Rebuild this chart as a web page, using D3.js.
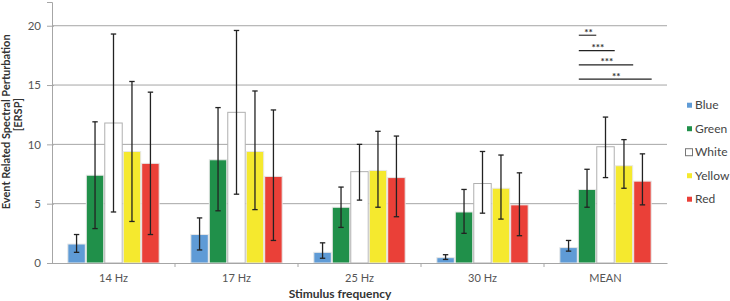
<!DOCTYPE html>
<html>
<head>
<meta charset="utf-8">
<script src="https://cdn.jsdelivr.net/npm/d3@7"></script>
<style>
  body { margin: 0; background: #fff; }
  text { font-family: Lato, "Open Sans", sans-serif; }
</style>
</head>
<body>
<div id="chart"></div>
<script>
// data
var categories = ["14 Hz", "17 Hz", "25 Hz", "30 Hz", "MEAN"];
var colours = ["Blue", "Green", "White", "Yellow", "Red"];
var yTicks = [0, 5, 10, 15, 20];

var meanBlue   = [1.6, 2.4, 0.9, 0.45, 1.3];
var meanGreen  = [7.4, 8.7, 4.7, 4.3, 6.2];
var meanWhite  = [11.8, 12.7, 7.7, 6.7, 9.8];
var meanYellow = [9.4, 9.4, 7.8, 6.3, 8.2];
var meanRed    = [8.4, 7.3, 7.2, 4.9, 6.9];

var errLowBlue   = [0.9, 1.1, 0.4, 0.3, 1.0];
var errHighBlue  = [2.4, 3.8, 1.7, 0.7, 1.9];
var errLowGreen  = [2.9, 4.4, 3.0, 2.5, 4.7];
var errHighGreen = [11.9, 13.1, 6.4, 6.2, 7.9];
var errLowWhite  = [4.3, 5.8, 5.3, 4.2, 7.2];
var errHighWhite = [19.3, 19.6, 10.0, 9.4, 12.3];
var errLowYellow = [3.5, 4.5, 4.7, 3.7, 6.3];
var errHighYellow= [15.3, 14.5, 11.1, 9.1, 10.4];
var errLowRed    = [2.4, 1.9, 3.9, 2.3, 4.9];
var errHighRed   = [14.4, 12.9, 10.7, 7.6, 9.2];

// significance brackets on MEAN: Blue vs ...
var sigTargets = ["Green", "White", "Yellow", "Red"];
var sigLevels  = [19.2, 17.9, 16.7, 15.5];
var sigLabels  = ["**", "***", "***", "**"];

var fill = {Blue: "#5f9bd6", Green: "#20904a", White: "#ffffff", Yellow: "#f5e92e", Red: "#ea4038"};

var means = {Blue: meanBlue, Green: meanGreen, White: meanWhite, Yellow: meanYellow, Red: meanRed};
var lows = {Blue: errLowBlue, Green: errLowGreen, White: errLowWhite, Yellow: errLowYellow, Red: errLowRed};
var highs = {Blue: errHighBlue, Green: errHighGreen, White: errHighWhite, Yellow: errHighYellow, Red: errHighRed};

var margin = {top: 2, right: 63, bottom: 38, left: 52},
    width = 730 - margin.left - margin.right,
    height = 301 - margin.top - margin.bottom;

var svg = d3.select("#chart").append("svg")
    .attr("width", 730).attr("height", 301)
  .append("g")
    .attr("transform", "translate(" + margin.left + "," + margin.top + ")");

var x = d3.scaleBand().domain(categories).range([0, width]);
var xSub = d3.scaleBand().domain(colours).range([0, x.bandwidth()])
    .paddingInner(0).paddingOuter(0.83);
var y = d3.scaleLinear().domain([0, 22]).range([height, 0]);

// gridlines
svg.append("g").selectAll("line").data(yTicks.slice(1)).enter().append("line")
    .attr("x1", 0).attr("x2", width)
    .attr("y1", function(d) { return y(d); }).attr("y2", function(d) { return y(d); })
    .attr("stroke", "#a6a6a6").attr("stroke-width", 1);

// y axis
var yAxis = svg.append("g")
    .call(d3.axisLeft(y).tickValues(yTicks).tickSize(5).tickPadding(6));
yAxis.select(".domain").attr("stroke", "#a6a6a6");
yAxis.selectAll(".tick line").attr("stroke", "#a6a6a6").attr("x2", -5).attr("x1", 2);
yAxis.selectAll(".tick text").attr("fill", "#555").style("font-size", "11.5px");

// bars
var rows = [];
categories.forEach(function(c, i) {
  colours.forEach(function(k) {
    rows.push({cat: c, key: k, value: means[k][i], lo: lows[k][i], hi: highs[k][i]});
  });
});

var groups = svg.selectAll("g.layer").data(categories).enter().append("g")
    .attr("class", "layer")
    .attr("transform", function(d) { return "translate(" + x(d) + ",0)"; });

groups.selectAll("rect")
    .data(function(c) { return rows.filter(function(r) { return r.cat == c; }); })
  .enter().append("rect")
    .attr("x", function(d) { return xSub(d.key) + 0.5; })
    .attr("width", xSub.bandwidth() - 1)
    .attr("y", function(d) { return y(d.value); })
    .attr("height", function(d) { return y(0) - y(d.value); })
    .attr("fill", function(d) { return fill[d.key]; })
    .attr("stroke", function(d) { return d.key == "White" ? "#b0b0b0" : "#e8e8e8"; })
    .attr("stroke-width", 1);

// error bars
var eb = groups.selectAll("g.err")
    .data(function(c) { return rows.filter(function(r) { return r.cat == c; }); })
  .enter().append("g").attr("class", "err")
    .attr("stroke", "#222").attr("stroke-width", 1.3);
var cx = function(d) { return xSub(d.key) + xSub.bandwidth() / 2; };
eb.append("line")
    .attr("x1", cx).attr("x2", cx)
    .attr("y1", function(d) { return y(d.lo); }).attr("y2", function(d) { return y(d.hi); });
eb.append("line")
    .attr("x1", function(d) { return cx(d) - 2.7; }).attr("x2", function(d) { return cx(d) + 2.7; })
    .attr("y1", function(d) { return y(d.hi); }).attr("y2", function(d) { return y(d.hi); });
eb.append("line")
    .attr("x1", function(d) { return cx(d) - 2.7; }).attr("x2", function(d) { return cx(d) + 2.7; })
    .attr("y1", function(d) { return y(d.lo); }).attr("y2", function(d) { return y(d.lo); });

// x axis
var xAxis = svg.append("g")
    .attr("transform", "translate(0," + height + ")")
    .call(d3.axisBottom(x).tickSize(0).tickPadding(11));
xAxis.select(".domain").attr("stroke", "#a6a6a6");
xAxis.selectAll(".tick text").attr("fill", "#555").style("font-size", "11px");
xAxis.selectAll("line.sep").data(categories.slice(1)).enter().append("line")
    .attr("class", "sep")
    .attr("x1", function(d) { return x(d); }).attr("x2", function(d) { return x(d); })
    .attr("y1", 0).attr("y2", 4)
    .attr("stroke", "#a6a6a6");

// significance brackets
var mx = x("MEAN");
var sig = svg.append("g");
sigTargets.forEach(function(t, i) {
  var x1 = mx + xSub("Blue") + xSub.bandwidth() + 1;
  var x2 = mx + xSub(t) + xSub.bandwidth();
  sig.append("line")
      .attr("x1", x1).attr("x2", x2)
      .attr("y1", y(sigLevels[i])).attr("y2", y(sigLevels[i]))
      .attr("stroke", "#222").attr("stroke-width", 1.1);
  sig.append("text")
      .attr("x", (x1 + x2) / 2 + 1).attr("y", y(sigLevels[i]) + 0.5)
      .attr("text-anchor", "middle")
      .style("font-size", "10px").style("font-weight", "bold")
      .attr("fill", "#333")
      .text(sigLabels[i]);
});

// axis titles
svg.append("text")
    .attr("transform", "translate(" + (-42) + "," + (y(11.9)) + ")rotate(-90)")
    .attr("text-anchor", "middle")
    .style("font-size", "11px").style("font-weight", "bold").attr("fill", "#333")
    .text("Event Related Spectral Perturbation");
svg.append("text")
    .attr("transform", "translate(" + (-30) + "," + (y(12.5)) + ")rotate(-90)")
    .attr("text-anchor", "middle")
    .style("font-size", "11px").style("font-weight", "bold").attr("fill", "#333")
    .text("[ERSP]");
svg.append("text")
    .attr("x", 288).attr("y", height + 35)
    .attr("text-anchor", "middle")
    .style("font-size", "12px").style("font-weight", "bold").attr("fill", "#333")
    .text("Stimulus frequency");

// legend
var legend = svg.append("g")
    .attr("transform", "translate(" + (width + 20) + "," + y(13.3) + ")");
var li = legend.selectAll("g").data(colours).enter().append("g")
    .attr("transform", function(d, i) { return "translate(0," + (i * 23.5) + ")"; });
li.append("rect")
    .attr("x", function(d) { return d == "White" ? -1.5 : 0; })
    .attr("y", function(d) { return d == "White" ? -3.5 : -2.5; })
    .attr("width", function(d) { return d == "White" ? 7 : 5; })
    .attr("height", function(d) { return d == "White" ? 7 : 5; })
    .attr("fill", function(d) { return fill[d]; })
    .attr("stroke", function(d) { return d == "White" ? "#777" : "none"; });
li.append("text")
    .attr("x", 8).attr("y", 0).attr("dy", "0.35em")
    .style("font-size", "12px").attr("fill", "#444")
    .text(function(d) { return d; });
</script>
</body>
</html>
